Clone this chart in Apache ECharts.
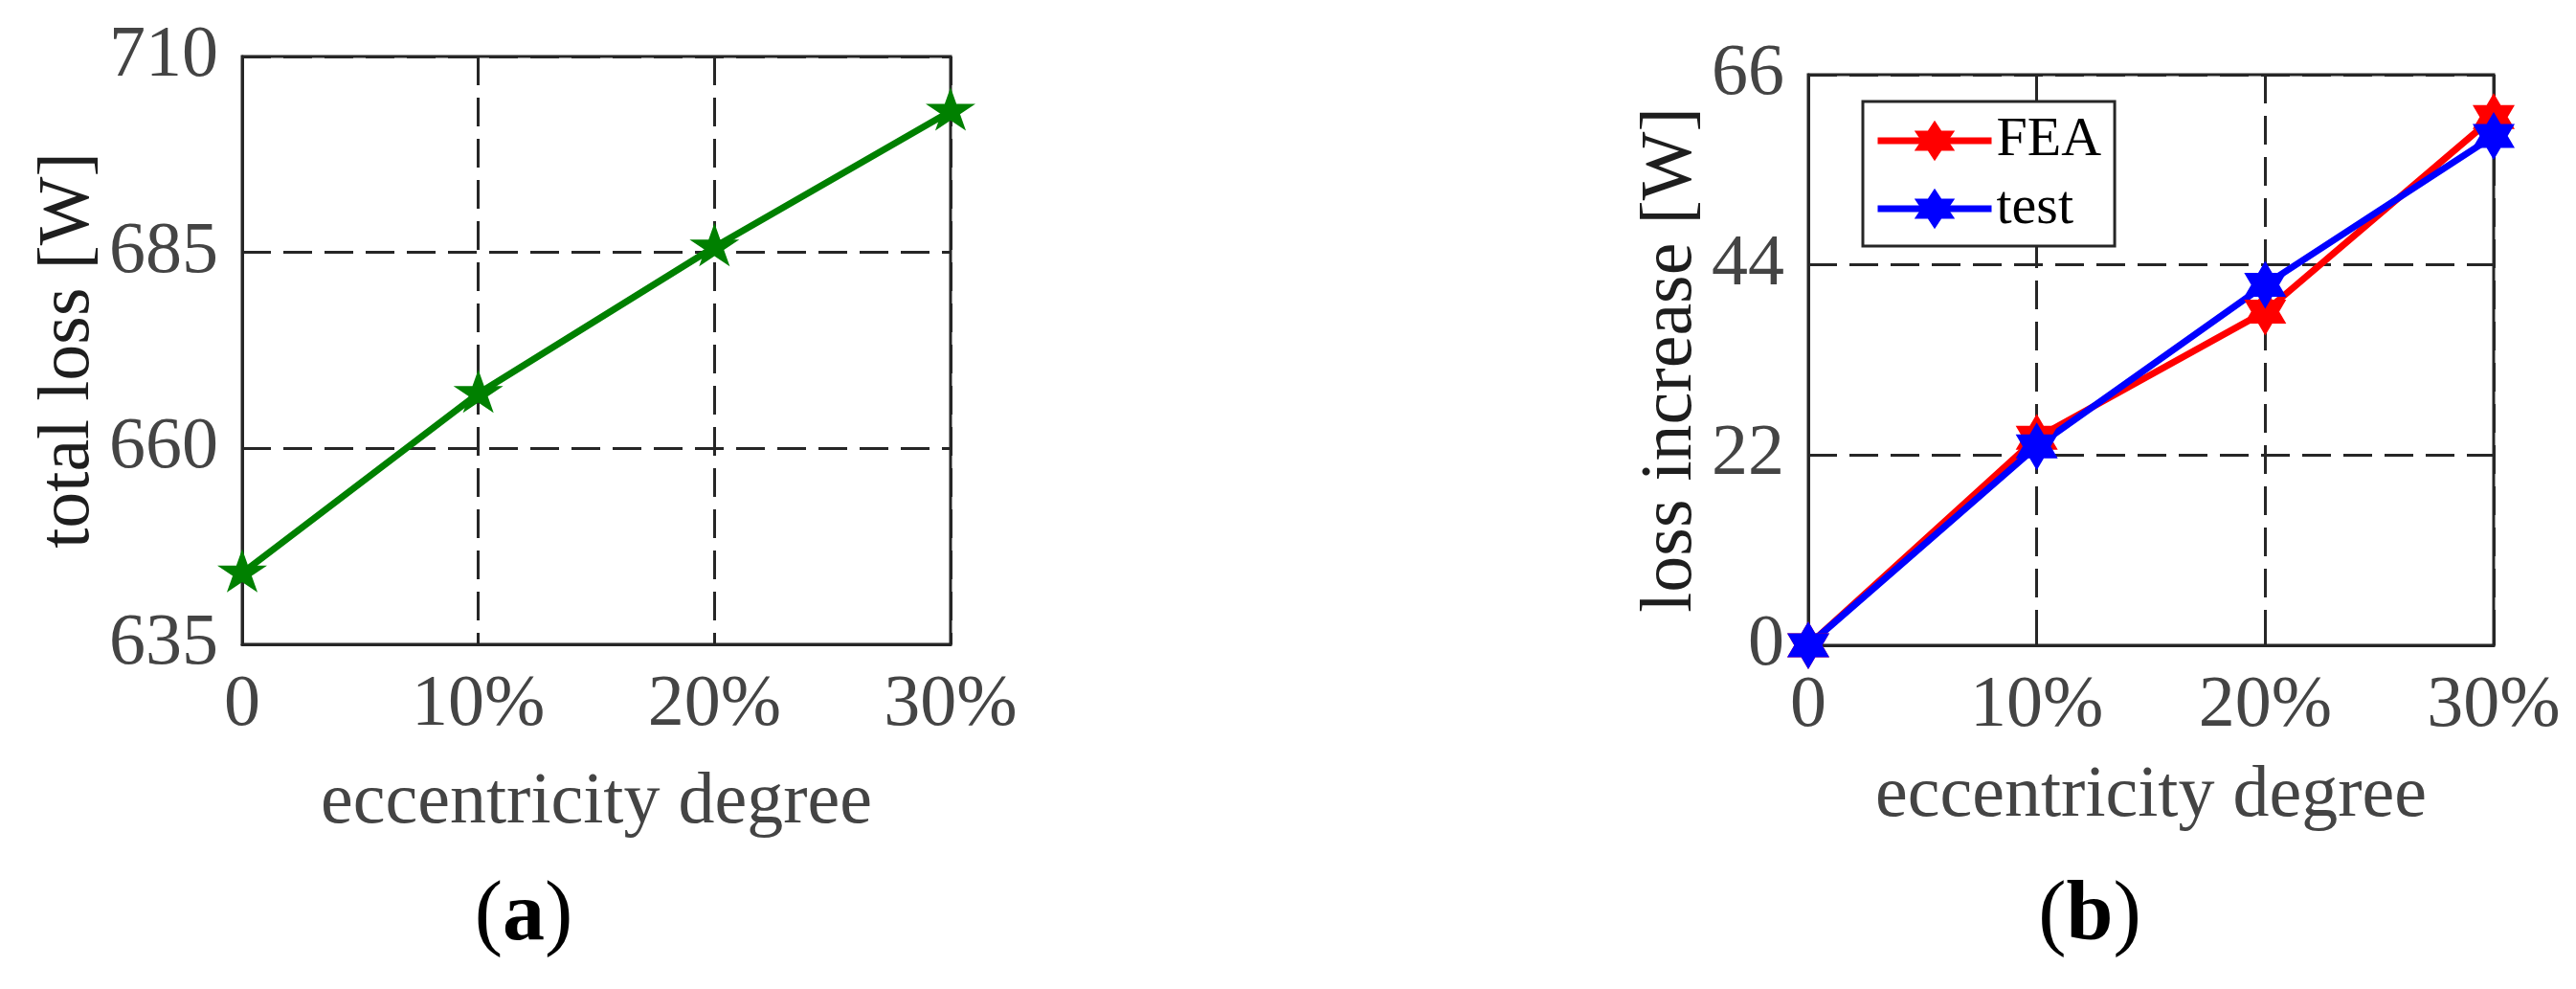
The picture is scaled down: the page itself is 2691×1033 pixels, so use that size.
<!DOCTYPE html>
<html>
<head>
<meta charset="utf-8">
<script src="https://cdn.jsdelivr.net/npm/echarts@6/dist/echarts.min.js"></script>
<style>
html,body{margin:0;padding:0;background:#fff;}
#chart{width:2691px;height:1033px;}
</style>
</head>
<body>
<div id="chart"></div>
<script>
// ---- data ----
var eccentricity = [0, 10, 20, 30];            // eccentricity degree [%]
var totalLoss = [644.1, 667.0, 685.7, 703.0];  // (a) total loss [W]
var feaIncrease = [0, 24.0, 38.6, 61.1];       // (b) FEA loss increase [W]
var testIncrease = [0, 23.0, 41.7, 58.9];      // (b) test loss increase [W]
var yTicksA = [635, 660, 685, 710];
var yTicksB = [0, 22, 44, 66];
var xTickLabels = ['0', '10%', '20%', '30%'];

function pairs(xs, ys) { return xs.map(function (x, i) { return [x, ys[i]]; }); }

var FONT = "'Liberation Serif','Times New Roman',serif";
var AXC = '#262626';
var TICKC = '#444444';
var FS = 76;

var pentagram = 'path://M100 0 L122.45 69.1 L195.11 69.1 L136.33 111.8 L158.78 180.9 L100 138.2 L41.22 180.9 L63.67 111.8 L4.89 69.1 L77.55 69.1 Z M100 200 L100.01 200 Z';
var hexagram = 'path://M100 0 L128.87 50 L186.6 50 L157.74 100 L186.6 150 L128.87 150 L100 200 L71.13 150 L13.4 150 L42.26 100 L13.4 50 L71.13 50 Z';

function xAxisCfg(gridIndex, nameGap) {
  return {
    type: 'value', gridIndex: gridIndex, min: 0, max: 30, interval: 10,
    name: 'eccentricity degree', nameLocation: 'middle', nameGap: nameGap,
    nameTextStyle: { fontFamily: FONT, fontSize: FS, color: TICKC },
    axisLine: { show: true, lineStyle: { color: AXC, width: 3 } },
    axisTick: { show: true, inside: true, length: 12, lineStyle: { color: AXC, width: 3 } },
    axisLabel: {
      fontFamily: FONT, fontSize: FS, color: TICKC, margin: 26,
      formatter: function (v) { return xTickLabels[eccentricity.indexOf(v)]; }
    },
    splitLine: { show: true, lineStyle: { color: AXC, width: 3, type: [30, 13] } }
  };
}
function yAxisCfg(gridIndex, ticks, name, nameGap) {
  return {
    type: 'value', gridIndex: gridIndex, min: ticks[0], max: ticks[ticks.length - 1],
    interval: ticks[1] - ticks[0],
    name: name, nameLocation: 'middle', nameGap: nameGap,
    nameTextStyle: { fontFamily: FONT, fontSize: FS, color: '#1e1e1e' },
    axisLine: { show: true, lineStyle: { color: AXC, width: 3 } },
    axisTick: { show: true, inside: true, length: 12, lineStyle: { color: AXC, width: 3 } },
    axisLabel: { fontFamily: FONT, fontSize: FS, color: TICKC, margin: 25 },
    splitLine: { show: true, lineStyle: { color: AXC, width: 3, type: [30, 13] } }
  };
}

var chart = echarts.init(document.getElementById('chart'), null, { renderer: 'canvas' });
chart.setOption({
  animation: false,
  backgroundColor: '#ffffff',
  grid: [
    { left: 253, top: 59, width: 740, height: 614, show: true, borderColor: AXC, borderWidth: 3, backgroundColor: 'transparent' },
    { left: 1889, top: 78, width: 716, height: 596, show: true, borderColor: AXC, borderWidth: 3, backgroundColor: 'transparent' }
  ],
  xAxis: [xAxisCfg(0, 128), xAxisCfg(1, 120)],
  yAxis: [
    yAxisCfg(0, yTicksA, 'total loss [W]', 143),
    yAxisCfg(1, yTicksB, 'loss increase [W]', 99)
  ],
  legend: {
    show: true, orient: 'vertical', left: 1946, top: 106,
    data: ['FEA', 'test'],
    itemWidth: 119, itemHeight: 53, itemGap: 13,
    padding: [12, 14, 10, 12],
    borderColor: AXC, borderWidth: 3, backgroundColor: '#fff',
    lineStyle: { width: 7 },
    textStyle: { fontFamily: FONT, fontSize: 58, color: '#000' },
    selectedMode: false
  },
  series: [
    {
      type: 'line', xAxisIndex: 0, yAxisIndex: 0, data: pairs(eccentricity, totalLoss),
      symbol: pentagram, symbolSize: [52, 50], clip: false,
      lineStyle: { color: '#008000', width: 7 }, itemStyle: { color: '#008000' }
    },
    {
      name: 'FEA', type: 'line', xAxisIndex: 1, yAxisIndex: 1, data: pairs(eccentricity, feaIncrease),
      symbol: hexagram, symbolSize: [44, 50], clip: false,
      lineStyle: { color: '#ff0000', width: 7 }, itemStyle: { color: '#ff0000' }
    },
    {
      name: 'test', type: 'line', xAxisIndex: 1, yAxisIndex: 1, data: pairs(eccentricity, testIncrease),
      symbol: hexagram, symbolSize: [44, 50], clip: false,
      lineStyle: { color: '#0000ff', width: 7 }, itemStyle: { color: '#0000ff' }
    }
  ],
  graphic: [
    {
      type: 'text', x: 547, y: 958,
      style: {
        text: '{p|(}{b|a}{p|)}', align: 'center', verticalAlign: 'middle',
        rich: {
          p: { fontFamily: FONT, fontSize: 88, color: '#000' },
          b: { fontFamily: FONT, fontSize: 88, fontWeight: 'bold', color: '#000' }
        }
      }
    },
    {
      type: 'text', x: 2183, y: 958,
      style: {
        text: '{p|(}{b|b}{p|)}', align: 'center', verticalAlign: 'middle',
        rich: {
          p: { fontFamily: FONT, fontSize: 88, color: '#000' },
          b: { fontFamily: FONT, fontSize: 88, fontWeight: 'bold', color: '#000' }
        }
      }
    }
  ]
});
</script>
</body>
</html>
